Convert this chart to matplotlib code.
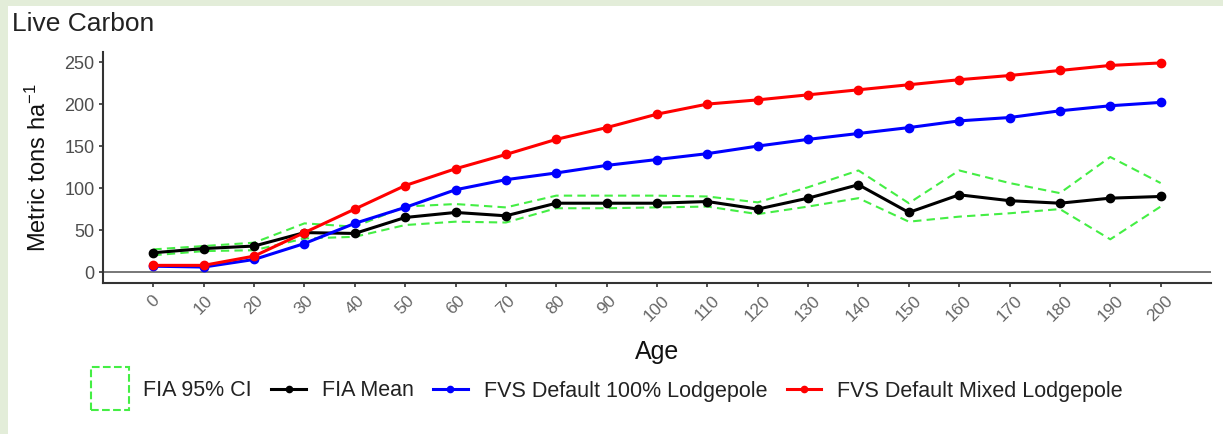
import numpy as np
import matplotlib
matplotlib.use("Agg")
import matplotlib.pyplot as plt
import matplotlib.patches as mpatches
from matplotlib.legend_handler import HandlerPatch

plt.rcParams['font.family'] = ['Liberation Sans', 'DejaVu Sans']
plt.rcParams['mathtext.default'] = 'regular'

# stand age (years)
age = [0, 10, 20, 30, 40, 50, 60, 70, 80, 90, 100,
       110, 120, 130, 140, 150, 160, 170, 180, 190, 200]

# live carbon, metric tons per ha
fia_mean = [23, 28, 31, 47, 46, 65, 71, 67, 82, 82, 82,
            84, 75, 88, 104, 71, 92, 85, 82, 88, 90]
ci_upper = [27, 31, 35, 58, 54, 78, 81, 77, 91, 91, 91,
            90, 83, 101, 121, 82, 121, 106, 94, 137, 106]
ci_lower = [20, 25, 26, 40, 42, 56, 60, 59, 76, 76, 77,
            78, 69, 78, 88, 60, 66, 70, 75, 39, 78]
fvs_lodgepole = [7, 6, 15, 34, 58, 77, 98, 110, 118, 127, 134,
                 141, 150, 158, 165, 172, 180, 184, 192, 198, 202]
fvs_mixed = [8, 8, 19, 47, 75, 103, 123, 140, 158, 172, 188,
             200, 205, 211, 217, 223, 229, 234, 240, 246, 249]

labels = ["FIA 95% CI", "FIA Mean", "FVS Default 100% Lodgepole",
          "FVS Default Mixed Lodgepole"]
ci_color = '#44ee44'

fig = plt.figure(figsize=(12.23, 4.34), dpi=100)
fig.patch.set_facecolor('white')

# light green frame strips along top and left edge
fig.patches.append(mpatches.Rectangle((0, 1 - 6 / 434), 1, 6 / 434, transform=fig.transFigure,
                                      facecolor='#e3edd9', edgecolor='none', zorder=0))
fig.patches.append(mpatches.Rectangle((0, 0), 8 / 1223, 1, transform=fig.transFigure,
                                      facecolor='#e3edd9', edgecolor='none', zorder=0))

ax = fig.add_axes([103 / 1223, 1 - 283 / 434, 1108 / 1223, 231 / 434])

ax.axhline(0, color='#777777', lw=1.4, zorder=1)

dash = (0, (4, 2.5))
ax.plot(age, ci_upper, color=ci_color, lw=1.5, linestyle=dash, zorder=2)
ax.plot(age, ci_lower, color=ci_color, lw=1.5, linestyle=dash, zorder=2)
l_mean, = ax.plot(age, fia_mean, color='black', lw=2.2, marker='o', ms=6, zorder=3)
l_blue, = ax.plot(age, fvs_lodgepole, color='#0000ff', lw=2.2, marker='o', ms=6, zorder=4)
l_red, = ax.plot(age, fvs_mixed, color='#ff0000', lw=2.2, marker='o', ms=6, zorder=5)

ax.set_xlim(-10, 210)
ax.set_ylim(-13, 262)
ax.set_xticks(age)
ax.set_xticklabels([str(a) for a in age], rotation=45, ha='center', va='top')
ax.set_yticks([0, 50, 100, 150, 200, 250])

for s in ['top', 'right']:
    ax.spines[s].set_visible(False)
for s in ['left', 'bottom']:
    ax.spines[s].set_color('#333333')
    ax.spines[s].set_linewidth(1.5)

ax.tick_params(axis='y', labelsize=13, labelcolor='#4d4d4d', color='#333333',
               length=3, width=1.2, pad=3)
ax.tick_params(axis='x', labelsize=12.5, labelcolor='#666666', color='#333333',
               length=3, width=1.2, pad=4)

ax.set_ylabel('Metric tons ha$^{-1}$', fontsize=17, color='#111111')
ax.yaxis.set_label_coords(-0.047, 0.5)
ax.set_xlabel('Age', fontsize=18, color='#111111')
ax.xaxis.set_label_coords(0.5, -0.245)

fig.text(12 / 1223, 1 - 31 / 434, 'Live Carbon', fontsize=19, color='#222222', va='baseline')


def ci_key(legend, orig_handle, xdescent, ydescent, width, height, fontsize):
    w, h = 27, 31
    return mpatches.Rectangle((-xdescent + (width - w) / 2, -ydescent + (height - h) / 2), w, h)


ci_handle = mpatches.Rectangle((0, 0), 1, 1, facecolor='none', edgecolor=ci_color,
                               linestyle='--', linewidth=1.5)
leg = fig.legend([ci_handle, l_mean, l_blue, l_red], labels, ncol=4, frameon=False,
                 loc='center', bbox_to_anchor=(0.497, 1 - 391 / 434),
                 fontsize=15.5, handlelength=1.6, handletextpad=0.75, columnspacing=0.9,
                 markerscale=0.75,
                 handler_map={mpatches.Rectangle: HandlerPatch(patch_func=ci_key)})
for t in leg.get_texts():
    t.set_color('#222222')

fig.savefig('out.png', dpi=100)
